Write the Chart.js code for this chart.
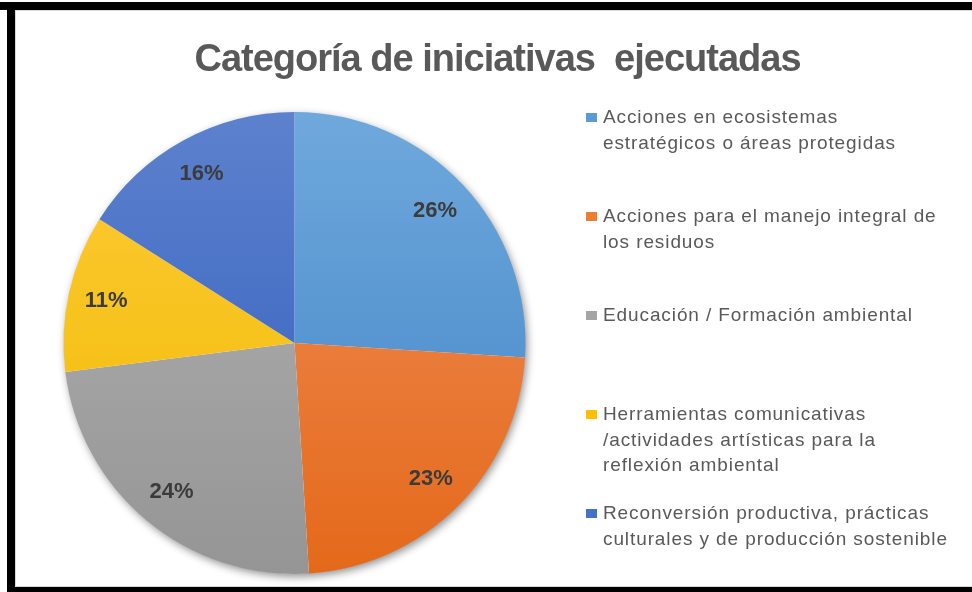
<!DOCTYPE html>
<html>
<head>
<meta charset="utf-8">
<script src="https://cdn.jsdelivr.net/npm/chart.js@4.4.1/dist/chart.umd.min.js"></script>
<style>
  html, body { margin: 0; padding: 0; background: #fff; }
  #wrap { position: relative; width: 972px; height: 592px; overflow: hidden; background: #fff; }
  #c { position: absolute; left: 0; top: 0; }
  .bar { position: absolute; background: #000; }
  .thin { position: absolute; background: #d9d9d9; }
  #title {
    position: absolute; left: 0; width: 995px; top: 34px; text-align: center;
    font-family: "Liberation Sans Narrow", "Liberation Sans", Arial, sans-serif;
    font-weight: bold; font-size: 38px; letter-spacing: -1px; color: #595959; line-height: 48px; white-space: pre;
  }
  #legend { position: absolute; left: 586px; top: 104px; }
  .item { position: relative; height: 99px; }
  .sw { position: absolute; left: 0; top: 9px; width: 11px; height: 9px; }
  .txt {
    position: absolute; left: 17px; top: 0; white-space: nowrap;
    font-family: "Liberation Sans", Arial, sans-serif; font-size: 19px; line-height: 25.5px;
    letter-spacing: 0.9px; color: #595959;
  }
</style>
</head>
<body>
<div id="wrap">
  <canvas id="c" width="972" height="592"></canvas>
  <div class="thin" style="left:15px;top:10px;width:957px;height:1px"></div>
  <div class="thin" style="left:15px;top:586px;width:957px;height:1px"></div>
  <div class="thin" style="left:15px;top:10px;width:1px;height:577px"></div>
  <div class="bar" style="left:0;top:2px;width:972px;height:8px"></div>
  <div class="bar" style="left:7px;top:2px;width:8px;height:590px"></div>
  <div class="bar" style="left:7px;top:587px;width:965px;height:5px"></div>
  <div id="title"></div>
  <div id="legend"></div>
</div>
<script>
// ---- data ----
const chartTitle = "Categoría de iniciativas  ejecutadas";
const categories = [
  ["Acciones en ecosistemas", "estratégicos o áreas protegidas"],
  ["Acciones para el manejo integral de", "los residuos"],
  ["Educación / Formación ambiental"],
  ["Herramientas comunicativas", "/actividades artísticas para la", "reflexión ambiental"],
  ["Reconversión productiva, prácticas", "culturales y de producción sostenible"]
];
const values = [26, 23, 24, 11, 16];
const baseColors = ["#5B9BD5", "#ED7D31", "#A5A5A5", "#FFC000", "#4472C4"];
const topColors = ["#6FA8DC", "#F18F5B", "#B3B3B3", "#FFCA38", "#5D81CD"];
const bottomColors = ["#3F84C6", "#E4691A", "#959595", "#EEBB00", "#2D5DBD"];

document.getElementById('title').textContent = chartTitle;

const total = values.reduce((a, b) => a + b, 0);

function sliceFill(ctx) {
  const chart = ctx.chart;
  const area = chart.chartArea;
  const i = ctx.dataIndex;
  if (!area || i === undefined) return baseColors[i] || '#888';
  const g = chart.ctx.createLinearGradient(0, area.top, 0, area.bottom);
  g.addColorStop(0, topColors[i]);
  g.addColorStop(1, bottomColors[i]);
  return g;
}

const shadowPlugin = {
  id: 'pieShadow',
  beforeDatasetsDraw(chart) {
    const meta = chart.getDatasetMeta(0);
    if (!meta.data.length) return;
    const arc = meta.data[0];
    const c = chart.ctx;
    c.save();
    c.shadowColor = 'rgba(0,0,0,0.45)';
    c.shadowBlur = 9;
    c.shadowOffsetX = 2;
    c.shadowOffsetY = 3;
    c.fillStyle = '#ffffff';
    c.beginPath();
    c.arc(arc.x, arc.y, arc.outerRadius - 0.5, 0, Math.PI * 2);
    c.fill();
    c.restore();
  }
};

const labelPlugin = {
  id: 'sliceLabels',
  afterDatasetsDraw(chart) {
    const meta = chart.getDatasetMeta(0);
    const c = chart.ctx;
    c.save();
    c.font = 'bold 22px "Liberation Sans", Arial, sans-serif';
    c.fillStyle = '#3B3B3B';
    c.textAlign = 'center';
    c.textBaseline = 'middle';
    meta.data.forEach((arc, i) => {
      const mid = (arc.startAngle + arc.endAngle) / 2;
      const r = arc.outerRadius * 0.835;
      const x = arc.x + Math.cos(mid) * r;
      const y = arc.y + Math.sin(mid) * r;
      c.fillText(Math.round(values[i] / total * 100) + '%', x, y);
    });
    c.restore();
  }
};

const chart = new Chart(document.getElementById('c'), {
  type: 'pie',
  data: {
    labels: categories.map(l => l.join(' ')),
    datasets: [{
      data: values,
      backgroundColor: sliceFill,
      borderWidth: 0,
      hoverOffset: 0
    }]
  },
  options: {
    responsive: false,
    animation: false,
    events: [],
    layout: { padding: { left: 63, top: 112, right: 446, bottom: 18 } },
    plugins: {
      legend: { display: false },
      title: { display: false },
      tooltip: { enabled: false }
    }
  },
  plugins: [shadowPlugin, labelPlugin]
});

// HTML legend built from the chart's data
const legend = document.getElementById('legend');
categories.forEach((lines, i) => {
  const item = document.createElement('div');
  item.className = 'item';
  const sw = document.createElement('div');
  sw.className = 'sw';
  sw.style.background = baseColors[i];
  const txt = document.createElement('div');
  txt.className = 'txt';
  lines.forEach((ln, k) => {
    if (k) txt.appendChild(document.createElement('br'));
    txt.appendChild(document.createTextNode(ln));
  });
  item.appendChild(sw);
  item.appendChild(txt);
  legend.appendChild(item);
});
</script>
</body>
</html>
